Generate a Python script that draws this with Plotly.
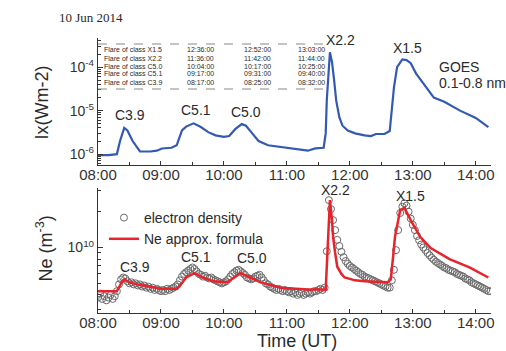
import plotly.graph_objects as go
import pandas as pd

DAY = "2014-06-10 "

# GOES X-ray flux (W m^-2)
goes_t = ["08:00","08:10","08:18","08:21","08:25","08:28","08:33","08:40","08:50","08:56",
          "09:01","09:10","09:15","09:20","09:24","09:31","09:38","09:45","09:52","10:00",
          "10:05","10:11","10:17","10:21","10:26","10:33","10:42","10:50","11:01","11:10",
          "11:20","11:27","11:35","11:37","11:38","11:41","11:43","11:45","11:47","11:50",
          "11:53","11:58","12:05","12:14","12:20","12:25","12:33","12:38","12:40","12:42",
          "12:45","12:50","12:54","12:58","13:03","13:10","13:20","13:30","13:45","14:00","14:12"]
goes_v = [9.5e-7,9.5e-7,1.0e-6,2.0e-6,4.0e-6,3.5e-6,2.0e-6,1.15e-6,1.15e-6,1.2e-6,
          1.35e-6,1.4e-6,1.6e-6,3.5e-6,4.3e-6,5.1e-6,4.2e-6,3.2e-6,2.7e-6,2.5e-6,
          2.6e-6,3.8e-6,4.9e-6,4.5e-6,3.2e-6,2.0e-6,1.6e-6,1.5e-6,1.4e-6,1.3e-6,
          1.2e-6,1.35e-6,1.4e-6,3.0e-6,1.7e-5,2.2e-4,1.3e-4,5.0e-5,1.7e-5,7.0e-6,
          4.5e-6,3.5e-6,3.0e-6,2.7e-6,2.6e-6,2.9e-6,2.9e-6,3.4e-6,1.0e-5,3.4e-5,
          1.0e-4,1.5e-4,1.45e-4,1.23e-4,7.2e-5,4.3e-5,2.0e-5,1.6e-5,1.0e-5,6.8e-6,4.2e-6]

# Ne approximation formula (1e9 m^-3)
fit_t = ["08:00","08:18","08:22","08:25","08:30","08:38","09:00","09:15","09:19","09:24",
         "09:32","09:40","09:50","10:03","10:10","10:16","10:25","10:35","10:54","11:20",
         "11:37","11:39","11:41","11:43","11:44","11:46","11:48","11:52","11:55","12:05",
         "12:14","12:36","12:39","12:41","12:43","12:48","12:52","12:58","13:07","13:17",
         "13:35","13:54","14:12"]
fit_v = [4.3,4.3,5.0,5.4,5.1,4.9,4.5,4.5,4.9,5.6,
         6.1,5.6,5.2,5.1,5.6,6.1,5.6,5.1,4.6,4.45,
         4.45,12.0,25.0,17.0,12.3,9.0,6.9,6.0,5.6,5.3,
         5.2,5.1,5.4,8.0,12.3,20.7,21.5,17.0,12.3,9.9,
         8.0,6.8,5.6]

# Measured electron density (1e9 m^-3), every 2 min from 08:00
obs_start = "08:00"
obs_v = [3.8,4.1,3.7,3.9,3.6,3.8,4.0,3.7,3.9,
         4.3,4.9,5.4,5.6,5.5,5.2,5.0,5.1,4.9,5.0,4.8,4.9,4.7,4.8,4.6,4.7,4.5,4.6,4.4,4.5,4.4,
         4.3,4.4,4.3,4.5,4.4,4.5,4.6,4.7,4.9,5.3,5.7,6.0,6.2,6.4,6.6,6.8,6.6,6.3,6.0,5.9,
         5.7,5.8,5.6,5.5,5.6,5.4,5.3,5.2,5.1,5.0,
         5.1,5.2,5.4,5.7,6.0,6.2,6.4,6.5,6.3,6.1,5.9,5.6,5.5,5.4,5.5,5.7,5.8,5.9,5.6,5.3,
         5.0,4.9,4.7,4.6,4.5,4.4,4.5,4.4,4.3,4.4,
         4.3,4.2,4.3,4.1,4.2,4.0,4.1,4.2,4.0,4.1,4.2,4.1,4.2,4.3,4.3,4.4,4.5,4.4,4.6,9.3,
         25.0,21.0,17.0,14.0,11.6,10.3,9.2,8.3,7.7,7.3,
         7.0,6.8,6.6,6.4,6.2,6.0,5.9,5.7,5.6,5.5,5.4,5.3,5.2,5.1,5.0,4.9,4.8,4.7,4.6,4.6,
         5.3,6.5,9.5,14.0,19.5,22.0,23.5,22.5,20.0,17.5,
         15.5,14.0,12.5,11.5,10.6,10.0,9.5,9.0,8.6,8.2,7.9,7.6,7.4,7.2,7.0,6.8,6.7,6.5,6.4,6.3,
         6.2,6.0,5.9,5.8,5.7,5.5,5.4,5.3,5.1,5.0,
         4.9,4.8,4.7,4.6,4.5,4.4,4.3,4.3]

flare_names = ["Flare of class X1.5","Flare of class X2.2","Flare of class C5.0",
               "Flare of class C5.1","Flare of class C3.9"]
flare_start = ["12:36:00","11:36:00","10:04:00","09:17:00","08:17:00"]
flare_peak = ["12:52:00","11:42:00","10:17:00","09:31:00","08:25:00"]
flare_end = ["13:03:00","11:44:00","10:25:00","09:40:00","08:32:00"]

top_labels = ["C3.9","C5.1","C5.0","X2.2","X1.5"]
bot_labels = ["C3.9","C5.1","C5.0","X2.2","X1.5"]

# ---- layout helpers (pixel -> paper) ----
W, H = 506, 351
L, R, T, B = 98, 12, 38, 38
PW, PH = W - L - R, H - T - B
def px(x): return (x - L) / PW
def py(y): return (H - B - y) / PH

FONT = "Liberation Sans, Arial, sans-serif"
TXT = "#2a2a2a"
BLUE = "#3359b3"
RED = "#e8232b"

obs_times = pd.date_range(DAY + obs_start, periods=len(obs_v), freq="2min")

fig = go.Figure()
fig.add_trace(go.Scatter(x=[DAY + t for t in goes_t], y=goes_v, mode="lines",
                         line=dict(color=BLUE, width=2.2), xaxis="x", yaxis="y",
                         showlegend=False))
fig.add_trace(go.Scatter(x=obs_times, y=[v * 1e9 for v in obs_v], mode="markers",
                         marker=dict(symbol="circle-open", size=7, color="#6a6a6a",
                                     line=dict(width=1)),
                         name="electron density", xaxis="x2", yaxis="y2"))
fig.add_trace(go.Scatter(x=[DAY + t for t in fit_t], y=[v * 1e9 for v in fit_v],
                         mode="lines", line=dict(color=RED, width=2.5),
                         name="Ne approx. formula", xaxis="x2", yaxis="y2"))

xr = [DAY + "08:00", DAY + "14:14:30"]
xcommon = dict(type="date", range=xr, tickformat="%H:%M", dtick=3600000,
               tick0=DAY + "08:00", showline=True, linecolor="#333", linewidth=1.3,
               ticks="inside", ticklen=4, tickcolor="#333", showgrid=False,
               zeroline=False, tickfont=dict(family=FONT, size=15, color="#333"),
               ticklabelstandoff=-4,
               minor=dict(dtick=1800000, ticks="inside", ticklen=3, tickcolor="#333"))

top_minor = [k * 10.0 ** n for n in range(-7, -3) for k in range(2, 10)]
bot_minor = [k * 10.0 ** n for n in range(9, 11) for k in range(2, 10)]

fig.update_layout(
    width=W, height=H, margin=dict(l=L, r=R, t=T, b=B),
    paper_bgcolor="white", plot_bgcolor="white",
    font=dict(family=FONT, color=TXT),
    xaxis=dict(xcommon, anchor="y", domain=[0, 1]),
    xaxis2=dict(xcommon, anchor="y2", domain=[0, 1]),
    yaxis=dict(type="log", range=[-6.25, -3.33], domain=[py(165), 1], anchor="x",
               tickvals=[1e-6, 1e-5, 1e-4],
               ticktext=["10<sup>-6</sup>", "10<sup>-5</sup>", "10<sup>-4</sup>"],
               showline=True, linecolor="#333", linewidth=1.3, ticks="inside",
               ticklen=5, tickcolor="#333", showgrid=False, zeroline=False,
               tickfont=dict(family=FONT, size=14, color="#333"),
               minor=dict(tickvals=top_minor, ticks="inside", ticklen=3, tickcolor="#333")),
    yaxis2=dict(type="log", range=[9.45, 10.5], domain=[0, py(188)], anchor="x2",
                tickvals=[1e10], ticktext=["10<sup>10</sup>"],
                showline=True, linecolor="#333", linewidth=1.3, ticks="inside",
                ticklen=5, tickcolor="#333", showgrid=False, zeroline=False,
                tickfont=dict(family=FONT, size=14, color="#333"),
                minor=dict(tickvals=bot_minor, ticks="inside", ticklen=3, tickcolor="#333")),
    legend=dict(x=px(104), y=py(202), xanchor="left", yanchor="top",
                bgcolor="rgba(0,0,0,0)", font=dict(family=FONT, size=14, color=TXT),
                tracegroupgap=0, itemwidth=30),
)

ann = []
def add_text(x, y, text, size=14, xanchor="center", family=FONT, angle=0, color=TXT):
    ann.append(dict(x=px(x), y=py(y), xref="paper", yref="paper", text=text,
                    showarrow=False, xanchor=xanchor, yanchor="middle", textangle=angle,
                    font=dict(family=family, size=size, color=color)))

add_text(57, 18, "10 Jun 2014", size=13, xanchor="left",
         family="Liberation Serif, Times New Roman, serif")
add_text(42, 102, "Ix(Wm-2)", size=18, angle=-90)
add_text(44, 248, "Ne (m<sup>-3</sup>)", size=18, angle=-90)
add_text(299, 341, "Time (UT)", size=18)
add_text(440, 67, "GOES", size=14, xanchor="left")
add_text(440, 83, "0.1-0.8 nm", size=14, xanchor="left")

for lab, (x, y) in zip(top_labels, [(130, 115), (197, 110), (247, 112), (342, 40), (410, 48)]):
    add_text(x, y, lab, size=14)
for lab, (x, y) in zip(bot_labels, [(135, 267), (197, 257), (253, 258), (337, 190), (413, 196)]):
    add_text(x, y, lab, size=14)

rows_y = [50, 58, 66, 74, 82]
for i, yy in enumerate(rows_y):
    add_text(102, yy, flare_names[i], size=7, xanchor="left")
    add_text(201, yy, flare_start[i], size=7)
    add_text(259, yy, flare_peak[i], size=7)
    add_text(313, yy, flare_end[i], size=7)

shapes = []
for yy in [44, 89]:
    shapes.append(dict(type="line", xref="paper", yref="paper", x0=px(98), x1=px(330),
                       y0=py(yy), y1=py(yy), line=dict(color="#888", width=1, dash="dash")))

fig.update_layout(annotations=ann, shapes=shapes)
fig.write_html("out.html", config={"displayModeBar": False},
               post_script="document.body.style.margin='0';document.body.style.padding='0';"
                           "window.dispatchEvent(new Event('resize'));")
